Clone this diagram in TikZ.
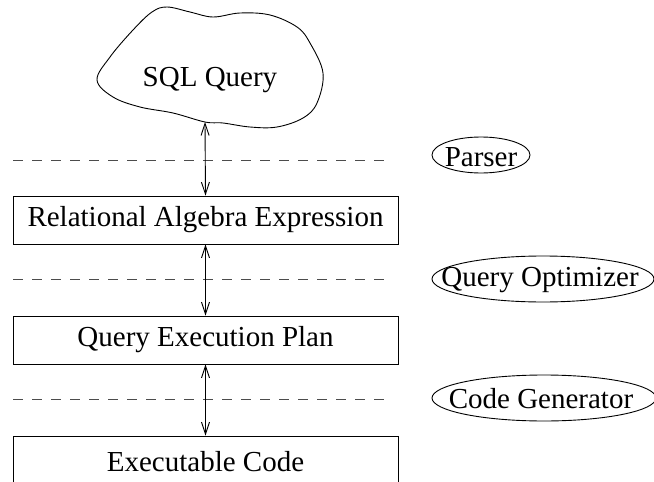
\documentclass[tikz,border=0pt]{standalone}
\usepackage{fontspec}
\setmainfont{Liberation Serif}
\usetikzlibrary{arrows.meta}
\begin{document}
\begin{tikzpicture}[x=1pt,y=-1pt,> = {Straight Barb[length=12pt,width=8pt]},line width=0.9pt,
	every node/.style={font=\fontsize{29}{34}\selectfont},
	stage/.style={draw,rectangle,minimum width=385pt,minimum height=48pt,inner sep=0pt},
	tool/.style={inner sep=0pt},
	cut/.style={dashed,dash pattern=on 10pt off 9pt,black!70}]
	\clip (0,0) rectangle (654,482);
	\draw plot[smooth cycle,tension=0.6] coordinates {(97,80) (110,57) (133,30) (152,12) (167,7) (190,12)
		(213,17) (240,13) (270,15) (297,27) (310,43) (323,73) (317,103) (303,118) (277,127) (250,127)
		(223,123) (205,122) (173,113) (140,107) (113,97)};
	\coordinate (cloud) at (205,122);
	\node (sql) at (210,80) 	{SQL Query};
	\node[stage] (rae) at (205.5,220)	{Relational Algebra Expression};
	\node[stage] (qep) at (205.5,340)	{Query Execution Plan};
	\node[stage,minimum height=52pt] (exe) at (205.5,462)	{Executable Code};
	\node[tool] (par) at (481,157)	{Parser};
	\node[tool] (opt) at (540,280)	{Query Optimizer};
	\node[tool] (gen) at (541,399)	{Code Generator};
	\draw (481,155) ellipse [x radius=49,y radius=18];
	\draw (543,279) ellipse [x radius=111,y radius=23];
	\draw (544,398) ellipse [x radius=112,y radius=23];
	\draw[cut] (13,160) -- (388,160);
	\draw[cut] (13,279) -- (388,279);
	\draw[cut] (13,399) -- (388,399);
	\draw[<->] (cloud) -- (rae.north);
	\draw[<->] (rae.south) -- (qep.north);
	\draw[<->] (qep.south) -- (exe.north);
\end{tikzpicture}
\end{document}
